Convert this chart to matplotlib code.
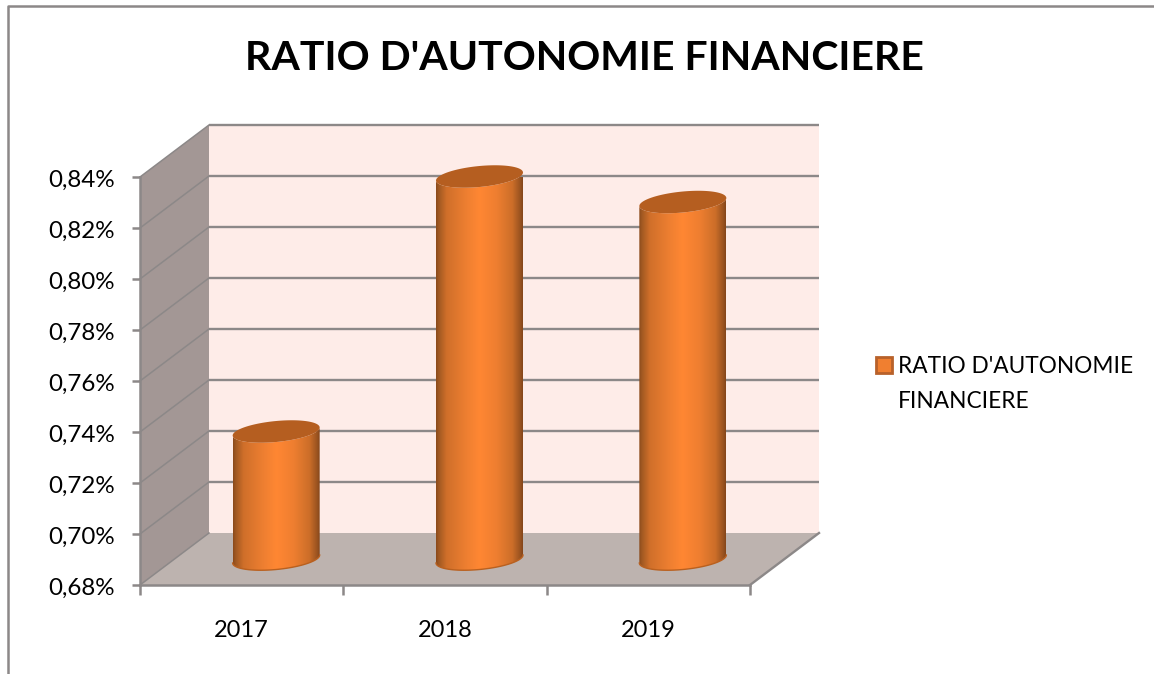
import matplotlib
matplotlib.use("Agg")
import matplotlib.pyplot as plt
import numpy as np
from matplotlib.colors import LinearSegmentedColormap
from matplotlib.patches import Patch, Polygon, PathPatch
from matplotlib.path import Path
from matplotlib.transforms import ScaledTranslation

plt.rcParams['font.family'] = ['Lato', 'DejaVu Sans']

title = "RATIO D'AUTONOMIE FINANCIERE"
legend_lines = ["RATIO D'AUTONOMIE", "FINANCIERE"]
years = ["2017", "2018", "2019"]
ratios = [0.73, 0.83, 0.82]
y_ticks = [0.68, 0.70, 0.72, 0.74, 0.76, 0.78, 0.80, 0.82, 0.84]

W, H = 1154, 674
GREY = "#8c8888"
WALL = "#a39795"
FLOOR = "#bdb3af"
BACK = "#feece8"
TOP = "#b55e20"

fig = plt.figure(figsize=(W/100, H/100), dpi=100, facecolor="white")
# the axes is the front plane of the fake 3d box
ax = fig.add_axes([140/W, 1-585/H, 610/W, 408/H])
ax.set_xlim(0, 3)
ax.set_ylim(0.68, 0.84)
ax.patch.set_visible(False)

px = 3/610      # data units per pixel, x
py = 0.16/408   # same for y
dx = 69*px      # depth of the box
dy = 52*py

# box walls
ax.add_patch(Polygon([(dx, y_ticks[0]+dy), (3+dx, y_ticks[0]+dy), (3+dx, y_ticks[-1]+dy), (dx, y_ticks[-1]+dy)],
                     fc=BACK, ec="none", clip_on=False, zorder=1))
ax.add_patch(Polygon([(0, y_ticks[0]), (dx, y_ticks[0]+dy), (dx, y_ticks[-1]+dy), (0, y_ticks[-1])],
                     fc=WALL, ec="none", clip_on=False, zorder=1))
ax.add_patch(Polygon([(0, y_ticks[0]), (3, y_ticks[0]), (3+dx, y_ticks[0]+dy), (dx, y_ticks[0]+dy)],
                     fc=FLOOR, ec="none", clip_on=False, zorder=1))

# grid lines, back wall and side wall
for v in y_ticks:
    if v != y_ticks[0]:
        ax.plot([dx, 3+dx], [v+dy, v+dy], color=GREY, lw=1.7, clip_on=False, zorder=2, solid_capstyle="butt")
    ax.plot([0, dx], [v, v+dy], color=GREY, lw=1.1, clip_on=False, zorder=2)
ax.plot([3, 3+dx], [y_ticks[0], y_ticks[0]+dy], color=GREY, lw=1.7, clip_on=False, zorder=2)

cmap = LinearSegmentedColormap.from_list("cyl", [
    (0.0, "#8a4a1a"), (0.03, "#a05822"), (0.12, "#cf6f2a"), (0.35, "#ee7f31"), (0.5, "#ff8733"),
    (0.7, "#ee7e30"), (0.88, "#cc6e29"), (0.97, "#9a5320"), (1.0, "#85461a")])
grad = np.linspace(0, 1, 256).reshape(1, -1)

a = 43.5*px    # half width of a cylinder
b = 10.5*py    # half height of the ellipse
s = 4*py       # tilt of the ellipse
t = np.linspace(0, 2*np.pi, 121)

for i, v in enumerate(ratios):
    cx = i+0.5+dx/2
    y0 = y_ticks[0]+dy/2
    y1 = v+dy/2
    low = np.linspace(np.pi, 2*np.pi, 61)   # lower half, left to right
    bx = cx+a*np.cos(low)
    by = y0+s*np.cos(low)+b*np.sin(low)
    tx = bx[::-1]
    ty = (y1+s*np.cos(low)+b*np.sin(low))[::-1]
    verts = np.column_stack([np.r_[bx, tx], np.r_[by, ty]])
    clip = PathPatch(Path(np.vstack([verts, verts[0]])), transform=ax.transData, fc="none", ec="none")
    ax.add_patch(clip)
    im = ax.imshow(grad, cmap=cmap, extent=[cx-a, cx+a, y0-b-s, y1+b+s], aspect="auto", zorder=3, clip_on=True)
    im.set_clip_path(clip)
    # thin darker rim along the bottom edge
    ax.plot(bx, by, color="#b9601f", lw=1, zorder=4)
    ax.fill(cx+a*np.cos(t), y1+s*np.cos(t)+b*np.sin(t), fc=TOP, ec="none", zorder=4, clip_on=False)

# imshow resets the limits
ax.set_xlim(0, 3)
ax.set_ylim(0.68, 0.84)

for side in ["top", "right"]:
    ax.spines[side].set_visible(False)
for side in ["left", "bottom"]:
    ax.spines[side].set_color(GREY)
    ax.spines[side].set_linewidth(1.8)

ax.set_yticks(y_ticks)
ax.set_yticklabels([("%.2f%%" % v).replace(".", ",") for v in y_ticks])
ax.set_xticks([0, 1, 2, 3])
ax.set_xticklabels([])
ax.set_xticks([0.5, 1.5, 2.5], years, minor=True)
ax.tick_params(axis="y", length=6, width=1.8, color=GREY, labelsize=17.4, pad=12, labelcolor="black")
ax.tick_params(axis="x", which="major", length=7, width=1.8, color=GREY)
ax.tick_params(axis="x", which="minor", length=0, labelsize=17, pad=25, labelcolor="black")

# labels sit a touch below the tick in the original
shift = ScaledTranslation(0, -1.5/100, fig.dpi_scale_trans)
for lab in ax.get_yticklabels():
    lab.set_transform(lab.get_transform()+shift)

# second legend line is its own entry with a hidden handle, so the box stays on line one
handles = [Patch(fc="#f07f30", ec="#b8612a", lw=2, label=legend_lines[0]),
           Patch(visible=False, label=legend_lines[1])]
fig.legend(handles=handles, loc="upper left", bbox_to_anchor=(876/W, 1-356/H), frameon=False, fontsize=16.3,
           handlelength=0.72, handleheight=0.72, handletextpad=0.26, borderpad=0, borderaxespad=0, labelspacing=0.6)

fig.text(584/W, 1-58/H, title, ha="center", va="center", fontsize=29.5, fontweight="bold", color="black")

# outer border of the chart area, only top and left show
fig.add_artist(plt.Line2D([8/W, 8/W, 1], [0, 1-6/H, 1-6/H], color=GREY, lw=1.8))

fig.savefig("out.png", dpi=100, facecolor="white")
